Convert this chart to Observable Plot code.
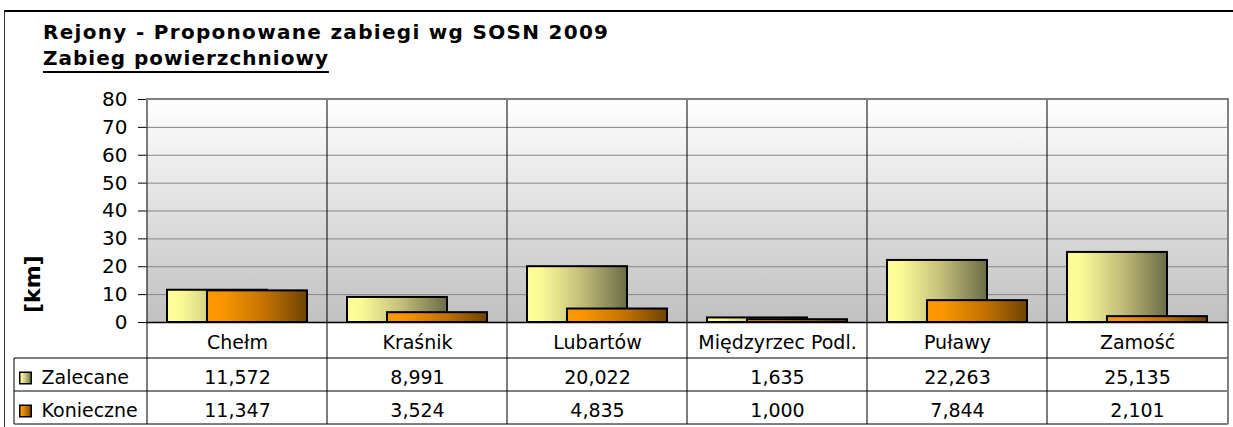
<!DOCTYPE html>
<html><head><meta charset="utf-8">
<script src="https://cdn.jsdelivr.net/npm/d3@7"></script>
<script src="https://cdn.jsdelivr.net/npm/@observablehq/plot@0.6"></script>
<style>
body{margin:0;background:#fff;font-family:"DejaVu Sans",sans-serif;}
#wrap{position:relative;width:1233px;height:427px;overflow:hidden;background:#fff;}
#frame{position:absolute;left:4px;top:10px;right:-10px;bottom:-10px;border-top:2px solid #000;border-left:1px solid #333;pointer-events:none;}
.t{position:absolute;left:43px;font-weight:bold;font-size:20px;line-height:20px;white-space:nowrap;color:#000;}
#title{top:22px;letter-spacing:1.3px;}
#subtitle{top:48px;letter-spacing:1px;text-decoration:underline;text-decoration-thickness:2px;text-underline-offset:6px;}
#chart,#table{position:absolute;left:0;}
#chart{top:0;}
#table{top:358px;}
#chart svg,#table svg{display:block;overflow:visible;background:transparent;}
</style></head>
<body><div id="wrap">
<div id="chart"></div><div id="table"></div>
<div class="t" id="title">Rejony - Proponowane zabiegi wg SOSN 2009</div>
<div class="t" id="subtitle">Zabieg powierzchniowy</div>
<div id="frame"></div>
</div>
<script>
const categories = ["Chełm", "Kraśnik", "Lubartów", "Międzyrzec Podl.", "Puławy", "Zamość"];
const zalecane = [11.572, 8.991, 20.022, 1.635, 22.263, 25.135];
const konieczne = [11.347, 3.524, 4.835, 1.000, 7.844, 2.101];
const seriesNames = ["Zalecane", "Konieczne"];
const yTicks = [0, 10, 20, 30, 40, 50, 60, 70, 80];
const gridTicks = [10, 20, 30, 40, 50, 60, 70];
const yLabel = "[km]";

const labelColumnWidth = 132;
const fmt = v => d3.format(".3f")(v).replace(".", ",");
const tableRows = [
  ...categories.map((c, i) => ({cat: c, series: "Zalecane", value: zalecane[i]})),
  ...categories.map((c, i) => ({cat: c, series: "Konieczne", value: konieczne[i]}))
];

function defs() {
  const d = document.createElementNS("http://www.w3.org/2000/svg", "defs");
  d.innerHTML = `
  <linearGradient id="gBg" x1="0" y1="0" x2="0" y2="1">
    <stop offset="0" stop-color="#ffffff"/><stop offset="1" stop-color="#c0c0c0"/>
  </linearGradient>
  <linearGradient id="gZ" x1="0" y1="0" x2="1" y2="0">
    <stop offset="0" stop-color="#ffff99"/><stop offset="0.15" stop-color="#f9f996"/>
    <stop offset="0.55" stop-color="#c2bd7a"/><stop offset="1" stop-color="#6b6c45"/>
  </linearGradient>
  <linearGradient id="gK" x1="0" y1="0" x2="1" y2="0">
    <stop offset="0" stop-color="#ff9900"/><stop offset="0.15" stop-color="#fb9600"/>
    <stop offset="0.6" stop-color="#bf7000"/><stop offset="1" stop-color="#6e4300"/>
  </linearGradient>`;
  return d;
}

function chartLines(index, scales, values, dims) {
  const {x, y} = scales;
  const g = d3.create("svg:g");
  const right = dims.width - dims.marginRight;
  for (const c of categories) {
    g.append("line").attr("x1", x(c)).attr("x2", x(c))
      .attr("y1", dims.marginTop).attr("y2", dims.height).attr("stroke", "#000");
  }
  g.append("line").attr("x1", dims.marginLeft).attr("x2", right)
    .attr("y1", y(80)).attr("y2", y(80)).attr("stroke", "#808080").attr("stroke-width", 2);
  g.append("line").attr("x1", right).attr("x2", right)
    .attr("y1", dims.marginTop - 1).attr("y2", dims.height).attr("stroke", "#808080").attr("stroke-width", 2);
  return g.node();
}

function tableGrid(index, scales, values, dims) {
  const {x, y} = scales;
  const g = d3.create("svg:g").attr("stroke", "#000").attr("fill", "none");
  const left = dims.marginLeft - labelColumnWidth;
  const right = dims.width - dims.marginRight;
  const last = seriesNames[seriesNames.length - 1];
  const bounds = seriesNames.map(s => y(s)).concat([y(last) + y.bandwidth()]);
  const top = bounds[0], bottom = bounds[bounds.length - 1];
  for (const b of bounds) {
    g.append("line").attr("x1", left).attr("x2", right).attr("y1", b).attr("y2", b);
  }
  for (const v of [left, ...categories.map(c => x(c))]) {
    g.append("line").attr("x1", v).attr("x2", v).attr("y1", top).attr("y2", bottom);
  }
  g.append("line").attr("x1", right).attr("x2", right).attr("y1", top).attr("y2", bottom)
    .attr("stroke", "#808080").attr("stroke-width", 2);
  return g.node();
}

const chart = Plot.plot({
  width: 1233, height: 358,
  marginTop: 99, marginBottom: 36, marginLeft: 146, marginRight: 5,
  style: {fontFamily: "DejaVu Sans", fontSize: "20px", color: "#000", background: "transparent", overflow: "visible"},
  x: {type: "band", domain: categories, padding: 0, axis: null},
  y: {domain: [0, 80], ticks: yTicks, tickSize: 8, tickPadding: 11, label: null, line: false, tickFormat: d => String(d)},
  marks: [
    defs,
    Plot.frame({fill: "url(#gBg)", stroke: "none"}),
    Plot.ruleY(gridTicks, {stroke: "#858585", strokeWidth: 1}),
    chartLines,
    Plot.barY(categories, {x: d => d, y1: 0, y2: (d, i) => zalecane[i], fill: "url(#gZ)", stroke: "#000", strokeWidth: 2, insetLeft: 20, insetRight: 60}),
    Plot.barY(categories, {x: d => d, y1: 0, y2: (d, i) => konieczne[i], fill: "url(#gK)", stroke: "#000", strokeWidth: 2, insetLeft: 60, insetRight: 20}),
    Plot.ruleY([0], {stroke: "#000", strokeWidth: 1.5}),
    Plot.text(categories, {x: d => d, text: d => d, frameAnchor: "bottom", lineAnchor: "middle", dy: 20, fontSize: 19, fill: "#000"}),
    Plot.text([yLabel], {text: d => d, frameAnchor: "left", dx: -114, dy: 102, rotate: -90, fontWeight: "bold", fontSize: 22, fill: "#000"})
  ]
});
document.getElementById("chart").append(chart);

const table = Plot.plot({
  width: 1233, height: 69,
  marginTop: 0, marginBottom: 3, marginLeft: 146, marginRight: 5,
  style: {fontFamily: "DejaVu Sans", fontSize: "19px", color: "#000", background: "transparent", overflow: "visible"},
  x: {type: "band", domain: categories, padding: 0, axis: null},
  y: {type: "band", domain: seriesNames, padding: 0, axis: null},
  marks: [
    tableGrid,
    Plot.text(tableRows, {x: "cat", y: "series", text: d => fmt(d.value), dy: 3, fill: "#000"}),
    Plot.text(seriesNames, {y: d => d, text: d => d, frameAnchor: "left", dx: -105, textAnchor: "start", dy: 3, fill: "#000"}),
    Plot.dot([seriesNames[0]], {y: d => d, frameAnchor: "left", dx: -121, dy: 3, symbol: "square", r: 6.5, fill: "url(#gZ)", stroke: "#000", strokeWidth: 1.5}),
    Plot.dot([seriesNames[1]], {y: d => d, frameAnchor: "left", dx: -121, dy: 3, symbol: "square", r: 6.5, fill: "url(#gK)", stroke: "#000", strokeWidth: 1.5})
  ]
});
document.getElementById("table").append(table);
</script>
</body></html>
